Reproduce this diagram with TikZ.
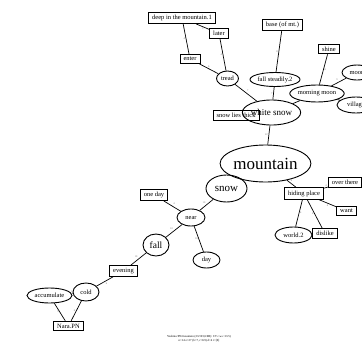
\documentclass[tikz,border=0pt]{standalone}
\usepackage{fontspec}
\setmainfont{Liberation Serif}
\usetikzlibrary{shapes.geometric}

\tikzset{
  word/.style={draw, line width=0.9pt, rectangle, inner xsep=3.5pt, inner ysep=2.6pt, font=\fontsize{6.5}{7}\selectfont},
  blob/.style={draw, line width=0.9pt, ellipse, inner sep=0pt, font=\fontsize{6.5}{7}\selectfont},
  link/.style={line width=0.7pt},
  wt/.style={font=\fontsize{2.6}{3}\selectfont, text=black!55, inner sep=0.8pt}
}

\begin{document}
\begin{tikzpicture}[x=1pt,y=-1pt]

\path [use as bounding box] (0,0) rectangle (362,343);

% HEAD
\node [blob, minimum width=85pt, minimum height=37pt, font=\fontsize{17}{19}\selectfont] (mountain) at (265.5,163.5) {mountain};

% UPPER BRANCH
\node [word] (snowthick) at (236,115.5) {snow lies thick};
\node [blob, minimum width=57pt, minimum height=25pt, font=\fontsize{9}{10}\selectfont] (whitesnow) at (271.5,112.5) {white snow};
\node [blob, minimum width=22pt, minimum height=15pt] (tread) at (227.5,78.5) {tread};
\node [word] (enter) at (190,59) {enter};
\node [word] (later) at (219,33.5) {later};
\node [word] (deep) at (182,18) {deep in the mountain.1};
\node [blob, minimum width=50pt, minimum height=14pt] (steadily) at (275,79.5) {fall steadily.2};
\node [word] (base) at (282.5,25) {base (of mt.)};
\node [blob, minimum width=50pt, minimum height=17pt] (morning) at (317,93.5) {morning moon};
\node [word] (shine) at (329,49) {shine};
\node [blob, minimum width=30pt, minimum height=15pt] (moon) at (357,72.5) {moon};
\node [blob, minimum width=38pt, minimum height=16pt] (village) at (356,105) {village};

% RIGHT BRANCH
\node [word] (hiding) at (304,193.5) {hiding place};
\node [word] (overthere) at (345,182.5) {over there};
\node [word] (want) at (346.5,211) {want};
\node [blob, minimum width=37pt, minimum height=16pt] (world) at (293.5,235) {world.2};
\node [word] (dislike) at (325,233.5) {dislike};

% LOWER BRANCH
\node [blob, minimum width=41pt, minimum height=27pt, font=\fontsize{11}{12}\selectfont] (snow) at (226.5,188.5) {snow};
\node [blob, minimum width=28pt, minimum height=17pt] (near) at (191,217.5) {near};
\node [word] (oneday) at (154,195) {one day};
\node [blob, minimum width=27pt, minimum height=16pt] (day) at (206.5,260) {day};
\node [blob, minimum width=26pt, minimum height=22pt, font=\fontsize{9.5}{10}\selectfont] (fall) at (156,245) {fall};
\node [word] (evening) at (123.5,271) {evening};
\node [blob, minimum width=26pt, minimum height=18pt] (cold) at (86,292) {cold};
\node [blob, minimum width=45pt, minimum height=15pt] (accum) at (49.5,295.5) {accumulate};
\node [word] (nara) at (68.5,326) {Nara.PN};

% LINKS
\draw [link] (deep) -- node [wt, below] {3} (later);
\draw [link] (deep) -- node [wt, left] {4} (enter);
\draw [link] (later) -- node [wt, left] {4} (tread);
\draw [link] (enter) -- node [wt, above] {6} (tread);
\draw [link] (tread) -- node [wt, above right] {7} (whitesnow);
\draw [link] (base) -- node [wt, left] {8} (steadily);
\draw [link] (steadily) -- node [wt, left] {7} (whitesnow);
\draw [link] (shine) -- node [wt, right] {8} (morning);
\draw [link] (moon) -- node [wt, above left] {9} (morning);
\draw [link] (village) -- (morning);
\draw [link] (morning) -- (whitesnow);
\draw [link] (whitesnow) -- node [wt, left] {22} (mountain);
\draw [link] (mountain) -- (snow);
\draw [link] (mountain) -- node [wt, above right, pos=0.3] {6} (hiding);
\draw [link] (hiding) -- node [wt, above] {4} (overthere);
\draw [link] (hiding) -- node [wt, below] {4} (want);
\draw [link] (hiding) -- node [wt, right] {4} (world);
\draw [link] (hiding) -- node [wt, left] {4} (dislike);
\draw [link] (snow) -- node [wt, above left] {10} (near);
\draw [link] (oneday) -- node [wt, above right] {4} (near);
\draw [link] (near) -- node [wt, above left] {10} (fall);
\draw [link] (near) -- node [wt, left] {10} (day);
\draw [link] (fall) -- node [wt, above left] {10} (evening);
\draw [link] (evening) -- node [wt, below right] {6} (cold);
\draw [link] (cold) -- node [wt, above] {6} (accum);
\draw [link] (cold) -- node [wt, left] {6} (nara);
\draw [link] (accum) -- node [wt, left] {5} (nara);

% CAPTION
\node [font=\fontsize{3}{3.6}\selectfont, align=center, inner sep=0pt] (caption) at (199,339) {Yoshino/PN/mountain (23/193,6:0B): CT c.w.c:13.5)\\ n=14 e=27 (b=7, r=0.9) d=4 r=[0]};

\end{tikzpicture}
\end{document}
